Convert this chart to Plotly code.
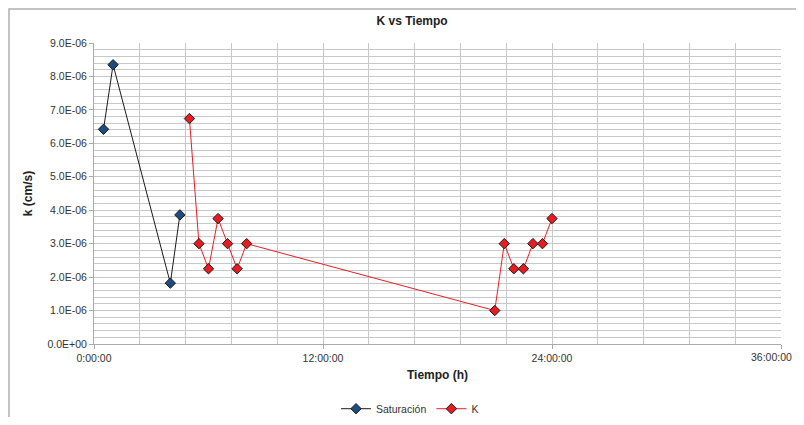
import plotly.graph_objects as go

# Tiempo en horas
sat_t = [0.5, 1.0, 4.0, 4.5]
sat_k = [6.42e-6, 8.35e-6, 1.82e-6, 3.86e-6]

k_t = [5.0, 5.5, 6.0, 6.5, 7.0, 7.5, 8.0,
       21.0, 21.5, 22.0, 22.5, 23.0, 23.5, 24.0]
k_k = [6.74e-6, 3.0e-6, 2.25e-6, 3.75e-6, 3.0e-6, 2.25e-6, 3.0e-6,
       1.0e-6, 3.0e-6, 2.25e-6, 2.25e-6, 3.0e-6, 3.0e-6, 3.75e-6]

x_tickvals = [0, 12, 24, 36]
x_ticktext = ["0:00:00", "12:00:00", "24:00:00", "36:00:00"]
y_tickvals = [i * 1e-6 for i in range(10)]
y_ticktext = ["0.0E+00", "1.0E-06", "2.0E-06", "3.0E-06", "4.0E-06",
              "5.0E-06", "6.0E-06", "7.0E-06", "8.0E-06", "9.0E-06"]

fig = go.Figure()
fig.add_trace(go.Scatter(
    x=sat_t, y=sat_k, name="Saturación", mode="lines+markers",
    line=dict(color="#1a1a1a", width=1),
    marker=dict(symbol="diamond", size=8, color="#1f4c7f",
                line=dict(color="#1a1a1a", width=1)),
))
fig.add_trace(go.Scatter(
    x=k_t, y=k_k, name="K", mode="lines+markers",
    line=dict(color="#ee1c24", width=1),
    marker=dict(symbol="diamond", size=8, color="#e81b22",
                line=dict(color="#1a1a1a", width=1)),
))

# la pagina tiene margen de 8 px en el body: figura mas chica para no generar scroll
W, H = 796, 409
grid = "#c8c8c8"
fig.update_layout(
    width=W, height=H,
    margin=dict(l=86, r=23, t=35, b=H - 35 - 301, autoexpand=False),
    paper_bgcolor="white", plot_bgcolor="white",
    font=dict(family="Liberation Sans, Arial", size=10.5, color="#333333"),
    title=dict(text="<b>K vs Tiempo</b>", font=dict(size=12, color="#222222"),
               xref="paper", x=0.463, xanchor="center",
               yref="container", y=1 - 13 / H, yanchor="middle"),
    showlegend=True,
    legend=dict(orientation="h", xref="paper", x=0.46, xanchor="center",
                y=-0.215, yanchor="middle", font=dict(size=10.5),
                itemwidth=30, tracegroupgap=0),
    xaxis=dict(
        range=[0, 36], tickvals=x_tickvals,
        # la ultima etiqueta se dibuja aparte para que no quede cortada
        ticktext=x_ticktext[:-1] + [""],
        showgrid=True, gridcolor=grid, gridwidth=1,
        minor=dict(dtick=2.4, showgrid=True, gridcolor=grid, ticks=""),
        showline=True, linecolor="#aaaaaa", ticks="outside", ticklen=4,
        tickcolor="#aaaaaa", zeroline=False,
        title=dict(text="<b>Tiempo (h)</b>", font=dict(size=12, color="#222222"),
                   standoff=8),
    ),
    yaxis=dict(
        range=[0, 9e-6], tickvals=y_tickvals, ticktext=y_ticktext,
        showgrid=True, gridcolor=grid, gridwidth=1,
        minor=dict(dtick=2e-7, showgrid=True, gridcolor=grid, ticks=""),
        showline=True, linecolor="#aaaaaa", ticks="outside", ticklen=4,
        tickcolor="#aaaaaa", zeroline=False,
        title=dict(text="<b>k (cm/s)</b>", font=dict(size=12, color="#222222"),
                   standoff=12),
    ),
)

fig.add_annotation(x=x_tickvals[-1], xref="x", y=0, yref="paper",
                   text=x_ticktext[-1], showarrow=False,
                   xanchor="right", yanchor="top", xshift=13, yshift=-5,
                   font=dict(size=10.5, color="#333333"))

# borde exterior del grafico (lo mas cerca posible del borde de la figura)
fig.add_shape(type="rect", xref="paper", yref="paper",
              x0=(1 - 86) / 687, x1=(820 - 86) / 687,
              y0=(336 - 440) / 301, y1=(336 - 1) / 301,
              line=dict(color="#b0b0b0", width=1.5), layer="below")

fig.write_html("out.html")
